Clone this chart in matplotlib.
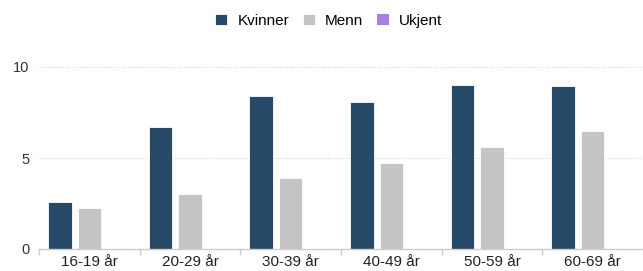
import numpy as np
import matplotlib.pyplot as plt

categories = ["16-19 år", "20-29 år", "30-39 år", "40-49 år", "50-59 år", "60-69 år"]
kvinner = [2.6, 6.7, 8.4, 8.1, 9.0, 8.95]
menn = [2.25, 3.0, 3.9, 4.75, 5.6, 6.5]
ukjent = [0, 0, 0, 0, 0, 0]

plt.rcParams['font.family'] = ['Liberation Sans', 'DejaVu Sans']

fig = plt.figure(figsize=(6.43, 2.71), dpi=100)
ax = fig.add_axes([39/643, 1 - 249/271, 1 - 39/643, (249 - 67)/271])

x = np.arange(len(categories))
w = 0.235
step = 0.293
ax.bar(x - step, kvinner, w, color="#264a67", edgecolor="white", linewidth=0.6,
       label="Kvinner", zorder=3)
ax.bar(x, menn, w, color="#c4c3c6", edgecolor="white", linewidth=0.6,
       label="Menn", zorder=3)
ax.bar(x + step, ukjent, w, color="#a87fdb", label="Ukjent", zorder=3)

ax.set_xlim(-0.5, len(categories) - 0.5)
ax.set_ylim(0, 10)
ax.set_yticks([0, 5, 10])
ax.set_xticks(x)
ax.set_xticklabels(categories)
ax.set_xticks(np.arange(len(categories) + 1) - 0.5, minor=True)
ax.tick_params(axis='x', which='major', length=0, pad=4.5, labelsize=11, colors='#222222')
ax.tick_params(axis='x', which='minor', length=4.5, color='#cccccc', width=1)
ax.tick_params(axis='y', length=0, pad=7, labelsize=10.5, colors='#333333')

ax.grid(axis='y', color='#d8d8d8', linestyle=':', linewidth=0.8, zorder=0)
for s in ['top', 'right', 'left']:
    ax.spines[s].set_visible(False)
ax.spines['bottom'].set_color('#cccccc')
ax.spines['bottom'].set_linewidth(1)
ax.spines['bottom'].set_zorder(4)

fig.legend(loc='center', bbox_to_anchor=(329/643, 1 - 21/271), ncol=3, frameon=False,
           fontsize=11, handlelength=0.75, handleheight=0.75, handletextpad=0.7,
           columnspacing=0.9)

fig.savefig("out.png", dpi=100)
